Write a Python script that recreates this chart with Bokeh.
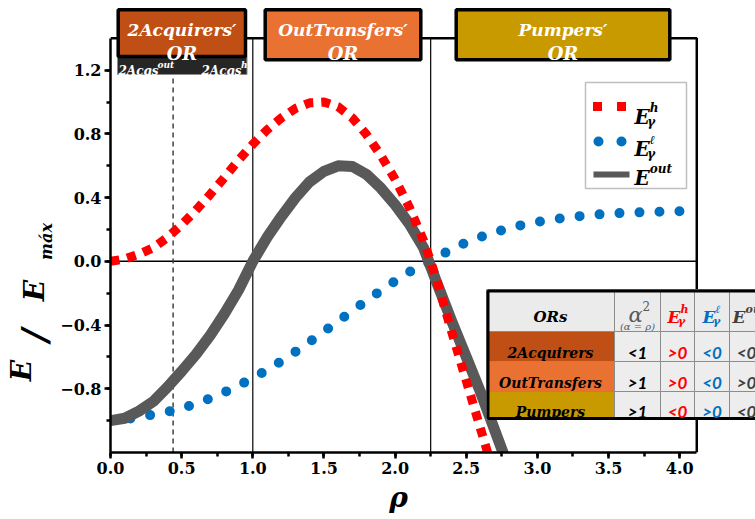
import math
from bokeh.plotting import figure
from bokeh.layouts import row, column
from bokeh.models import Range1d, SingleIntervalTicker, CustomJSTickFormatter, Label
from bokeh.embed import file_html
from bokeh.resources import INLINE

# ---------------- data ----------------
rho_h = [0.0, 0.1, 0.2, 0.3, 0.4, 0.5, 0.6, 0.7, 0.8, 0.9, 1.0, 1.1, 1.2, 1.3, 1.4,
         1.5, 1.6, 1.7, 1.8, 1.9, 2.0, 2.1, 2.2, 2.25, 2.3, 2.4, 2.5, 2.6, 2.7]
E_h = [0.0, 0.015, 0.045, 0.085, 0.15, 0.23, 0.32, 0.42, 0.525, 0.635, 0.735, 0.825,
       0.9, 0.96, 0.995, 1.0, 0.97, 0.9, 0.795, 0.665, 0.515, 0.34, 0.13, 0.0,
       -0.14, -0.45, -0.75, -1.05, -1.35]

rho_out = [0.0, 0.1, 0.2, 0.3, 0.4, 0.5, 0.6, 0.7, 0.8, 0.9, 1.0, 1.1, 1.2, 1.3, 1.4,
           1.5, 1.6, 1.7, 1.8, 1.9, 2.0, 2.1, 2.2, 2.3, 2.4, 2.5, 2.6, 2.7, 2.8]
E_out = [-1.0, -0.985, -0.94, -0.88, -0.79, -0.69, -0.585, -0.465, -0.33, -0.18, 0.0,
         0.15, 0.28, 0.40, 0.50, 0.565, 0.6, 0.595, 0.545, 0.46, 0.355, 0.235, 0.085,
         -0.15, -0.38, -0.6, -0.82, -1.06, -1.3]

rho_l = [0.0, 0.15, 0.3, 0.45, 0.6, 0.75, 0.9, 1.05, 1.2, 1.35, 1.5, 1.65, 1.8, 1.95,
         2.1, 2.25, 2.4, 2.55, 2.7, 2.85, 3.0, 3.2, 3.4, 3.6, 3.8, 4.03]
E_l = [-1.0, -0.985, -0.962, -0.935, -0.895, -0.843, -0.78, -0.708, -0.627, -0.537,
       -0.44, -0.343, -0.245, -0.153, -0.066, 0.0, 0.079, 0.138, 0.183, 0.22, 0.248,
       0.275, 0.293, 0.304, 0.31, 0.315]

v_lines = [1.0, 2.25]
dash_line_x = 0.44

ors = ["2Acquirers", "OutTransfers", "Pumpers"]
or_colors = ["#C04F15", "#E97132", "#C99A00"]
alpha_sq = ["<1", ">1", ">1"]
eh_sign = [">0", ">0", "<0"]
el_sign = ["<0", "<0", ">0"]
eout_sign = ["<0", ">0", "<0"]

RED, BLUE, GRAY = "#FF0000", "#0070C0", "#595959"
SERIF = "DejaVu Serif"

# ---------------- layout ----------------
W, H = 755, 519
LW = 57                 # left strip holding the y title
BH = 37                 # bottom strip holding the x title
FLX = 109               # frame left, page px
FL = FLX - LW
FH = 452
FBA = H - BH - FH       # room for x tick labels
FW = W - FLX
SX, SY = 142.3, 159.3
x_end = FW / SX
y0 = -1.2
y_end = y0 + FH / SY


def X(px):
    return (px - FLX) / SX


def Y(py):
    return y_end - py / SY


p = figure(frame_width=FW, frame_height=FH, min_border_left=FL, min_border_right=0,
           min_border_top=0, min_border_bottom=FBA,
           x_range=Range1d(0, x_end), y_range=Range1d(y0, y_end),
           output_backend="svg", toolbar_location=None,
           background_fill_color="white", border_fill_color="white")
p.outline_line_color = None
p.xgrid.grid_line_color = None
p.ygrid.grid_line_color = None

fmt = CustomJSTickFormatter(code="return (tick < -1e-9 ? '\u2212' : '') + Math.abs(tick).toFixed(1);")
for ax, iv, bnd in ((p.xaxis[0], 0.5, (0, 4.12)), (p.yaxis[0], 0.4, (-1.2, 1.4))):
    ax.ticker = SingleIntervalTicker(interval=iv, num_minor_ticks=2)
    ax.bounds = bnd
    ax.formatter = fmt
    ax.axis_line_width = 2.5
    ax.axis_line_color = "black"
    ax.major_tick_line_width = 2.5
    ax.minor_tick_line_width = 2.5
    ax.major_tick_out = 6
    ax.major_tick_in = 0
    ax.minor_tick_out = 4
    ax.minor_tick_in = 0
    ax.major_label_text_font = SERIF
    ax.major_label_text_font_style = "bold"
    ax.major_label_text_font_size = "16px"
    ax.major_label_text_color = "black"
    ax.major_label_standoff = 3


def lab(px, py, text, size, color="black", style="bold italic", font=SERIF,
        align="center", baseline="alphabetic", angle=0.0, fig=None, xoff=0):
    f = fig if fig is not None else p
    xx = X(px) if fig is None else px - xoff
    yy = Y(py) if fig is None else H - py
    f.add_layout(Label(x=xx, y=yy, text=text, text_font_size=f"{size}px",
                       text_color=color, text_font_style=style, text_font=font,
                       text_align=align, text_baseline=baseline, angle=angle))


def emath(px, py, base, sup, sub, size, color="black"):
    lab(px, py, base, size, color, align="left")
    w = 0.74 * size
    if sup:
        lab(px + w + 0.5, py - 0.42 * size, sup, round(0.62 * size), color, align="left")
    if sub:
        lab(px + w - 2, py + 0.28 * size, sub, round(0.62 * size), color, align="left")


# frame top/right
p.line([0, 4.12, 4.12], [1.4, 1.4, -1.2], line_color="black", line_width=2.5)
# reference lines
p.segment(x0=v_lines, y0=[-1.2] * 2, x1=v_lines, y1=[1.4] * 2, line_color="black", line_width=1.2)
p.segment(x0=[0], y0=[0], x1=[4.12], y1=[0], line_color="black", line_width=1.5)
p.segment(x0=[dash_line_x], y0=[-1.2], x1=[dash_line_x], y1=[Y(74)], line_color="#404040",
          line_width=1.5, line_dash="5 4")

# curves
p.line(rho_l, E_l, line_color=BLUE, line_width=10, line_dash="0 20", line_cap="round")
p.line(rho_out, E_out, line_color=GRAY, line_width=11, line_join="round")
p.line(rho_h, E_h, line_color=RED, line_width=9, line_dash="9 8")

# legend
p.quad(left=[X(584)], right=[X(685)], top=[Y(82)], bottom=[Y(188)], fill_color="white",
       line_color="#BFBFBF", line_width=1.5)
p.scatter([X(596), X(620)], [Y(106)] * 2, marker="square", size=9, fill_color=RED, line_color=None)
emath(633, 116, "E", "h", "γ", 20)
p.scatter([X(597), X(620)], [Y(141)] * 2, marker="circle", size=10, fill_color=BLUE, line_color=None)
emath(633, 148, "E", "ℓ", "γ", 20)
p.quad(left=[X(592)], right=[X(628)], top=[Y(171)], bottom=[Y(177)], fill_color=GRAY, line_color=None)
emath(633, 177, "E", "out", None, 20)

# table
cols = [485, 613, 659, 693, 728, 800]
rows = [289, 331, 361, 391, 419]
for j in range(5):
    p.quad(left=[X(cols[j])], right=[X(cols[j + 1])], top=[Y(rows[0])], bottom=[Y(rows[1])],
           fill_color="#EBEBEB", line_color="#8C8C8C", line_width=1)
for i in range(3):
    for j in range(5):
        fc = or_colors[i] if j == 0 else "#EDEDED"
        p.quad(left=[X(cols[j])], right=[X(cols[j + 1])], top=[Y(rows[i + 1])],
               bottom=[Y(rows[i + 2])], fill_color=fc, line_color="#8C8C8C", line_width=1)
p.quad(left=[X(486.5)], right=[X(800)], top=[Y(290.5)], bottom=[Y(418)], fill_color=None,
       line_color="black", line_width=3)

lab(549, 316, "ORs", 15)
lab(627, 314, "α", 21, "#595959", style="italic", align="left")
lab(641, 305, "2", 12, "#595959", style="normal", align="left")
lab(636, 326, "(α = ρ)", 10, "#595959", style="italic")
emath(666, 316, "E", "h", "γ", 17, RED)
emath(701, 316, "E", "ℓ", "γ", 17, BLUE)
emath(731, 316, "E", "out", None, 17, "#404040")
col_c = [636, 676, 710.5, 745]
val_col = ["black", RED, BLUE, "#404040"]
for i in range(3):
    cy = (rows[i + 1] + rows[i + 2]) / 2 + 6
    lab(549, cy, ors[i], 14)
    for j, vals in enumerate((alpha_sq, eh_sign, el_sign, eout_sign)):
        lab(col_c[j], cy, vals[i], 17, val_col[j], font="Lato")

# header boxes
p.quad(left=[X(116)], right=[X(245.5)], top=[Y(56)], bottom=[Y(74)], fill_color="#262626",
       line_color="#8C8C8C", line_width=1)
p.quad(left=[X(116.7)], right=[X(244)], top=[Y(9.2)], bottom=[Y(56)], fill_color=or_colors[0],
       line_color="black", line_width=3.5)
p.quad(left=[X(263.7)], right=[X(419.3)], top=[Y(9.2)], bottom=[Y(59.3)], fill_color=or_colors[1],
       line_color="black", line_width=3.5)
p.quad(left=[X(454.7)], right=[X(668.3)], top=[Y(9.2)], bottom=[Y(59.3)], fill_color=or_colors[2],
       line_color="black", line_width=3.5)
for cx, t in ((180.5, "2Acquirers′"), (341.5, "OutTransfers′"), (561.5, "Pumpers′")):
    lab(cx, 29, t, 17, "white")
    lab(cx, 53, "OR", 18, "white")
lab(117, 70, "2Acqs", 12, "white", align="left")
lab(156, 64, "out", 9, "white", align="left")
lab(200, 70, "2Acqs", 12, "white", align="left")
lab(239.5, 64, "h", 9, "white", align="left")

# ---------------- left strip with the y title ----------------
lf = figure(frame_width=LW, frame_height=FH, x_range=Range1d(0, LW), y_range=Range1d(H - FH, H),
            output_backend="svg", toolbar_location=None, x_axis_location=None,
            y_axis_location=None, min_border_left=0, min_border_right=0, min_border_top=0,
            min_border_bottom=FBA, background_fill_color="white", border_fill_color="white")
lf.outline_line_color = None
lf.grid.grid_line_color = None
r = math.pi / 2
lab(21, 370, "E", 28, baseline="middle", angle=r, fig=lf)
lab(33, 335, "/", 36, baseline="middle", angle=r, fig=lf)
lab(34, 290, "E", 28, baseline="middle", angle=r, fig=lf)
lab(46, 241, "máx", 16, baseline="middle", angle=r, fig=lf)

# ---------------- bottom strip with the x title ----------------
bf = figure(frame_width=W, frame_height=BH, x_range=Range1d(0, W), y_range=Range1d(0, BH),
            output_backend="svg", toolbar_location=None, x_axis_location=None,
            y_axis_location=None, min_border=0, background_fill_color="white",
            border_fill_color="white")
bf.outline_line_color = None
bf.grid.grid_line_color = None
bf.add_layout(Label(x=398, y=H - 497, text="ρ", text_font_size="28px", text_color="black",
                    text_font_style="bold italic", text_font=SERIF, text_align="center",
                    text_baseline="middle"))

layout = column(row(lf, p), bf)
open("out.html", "w").write(file_html(layout, INLINE))
